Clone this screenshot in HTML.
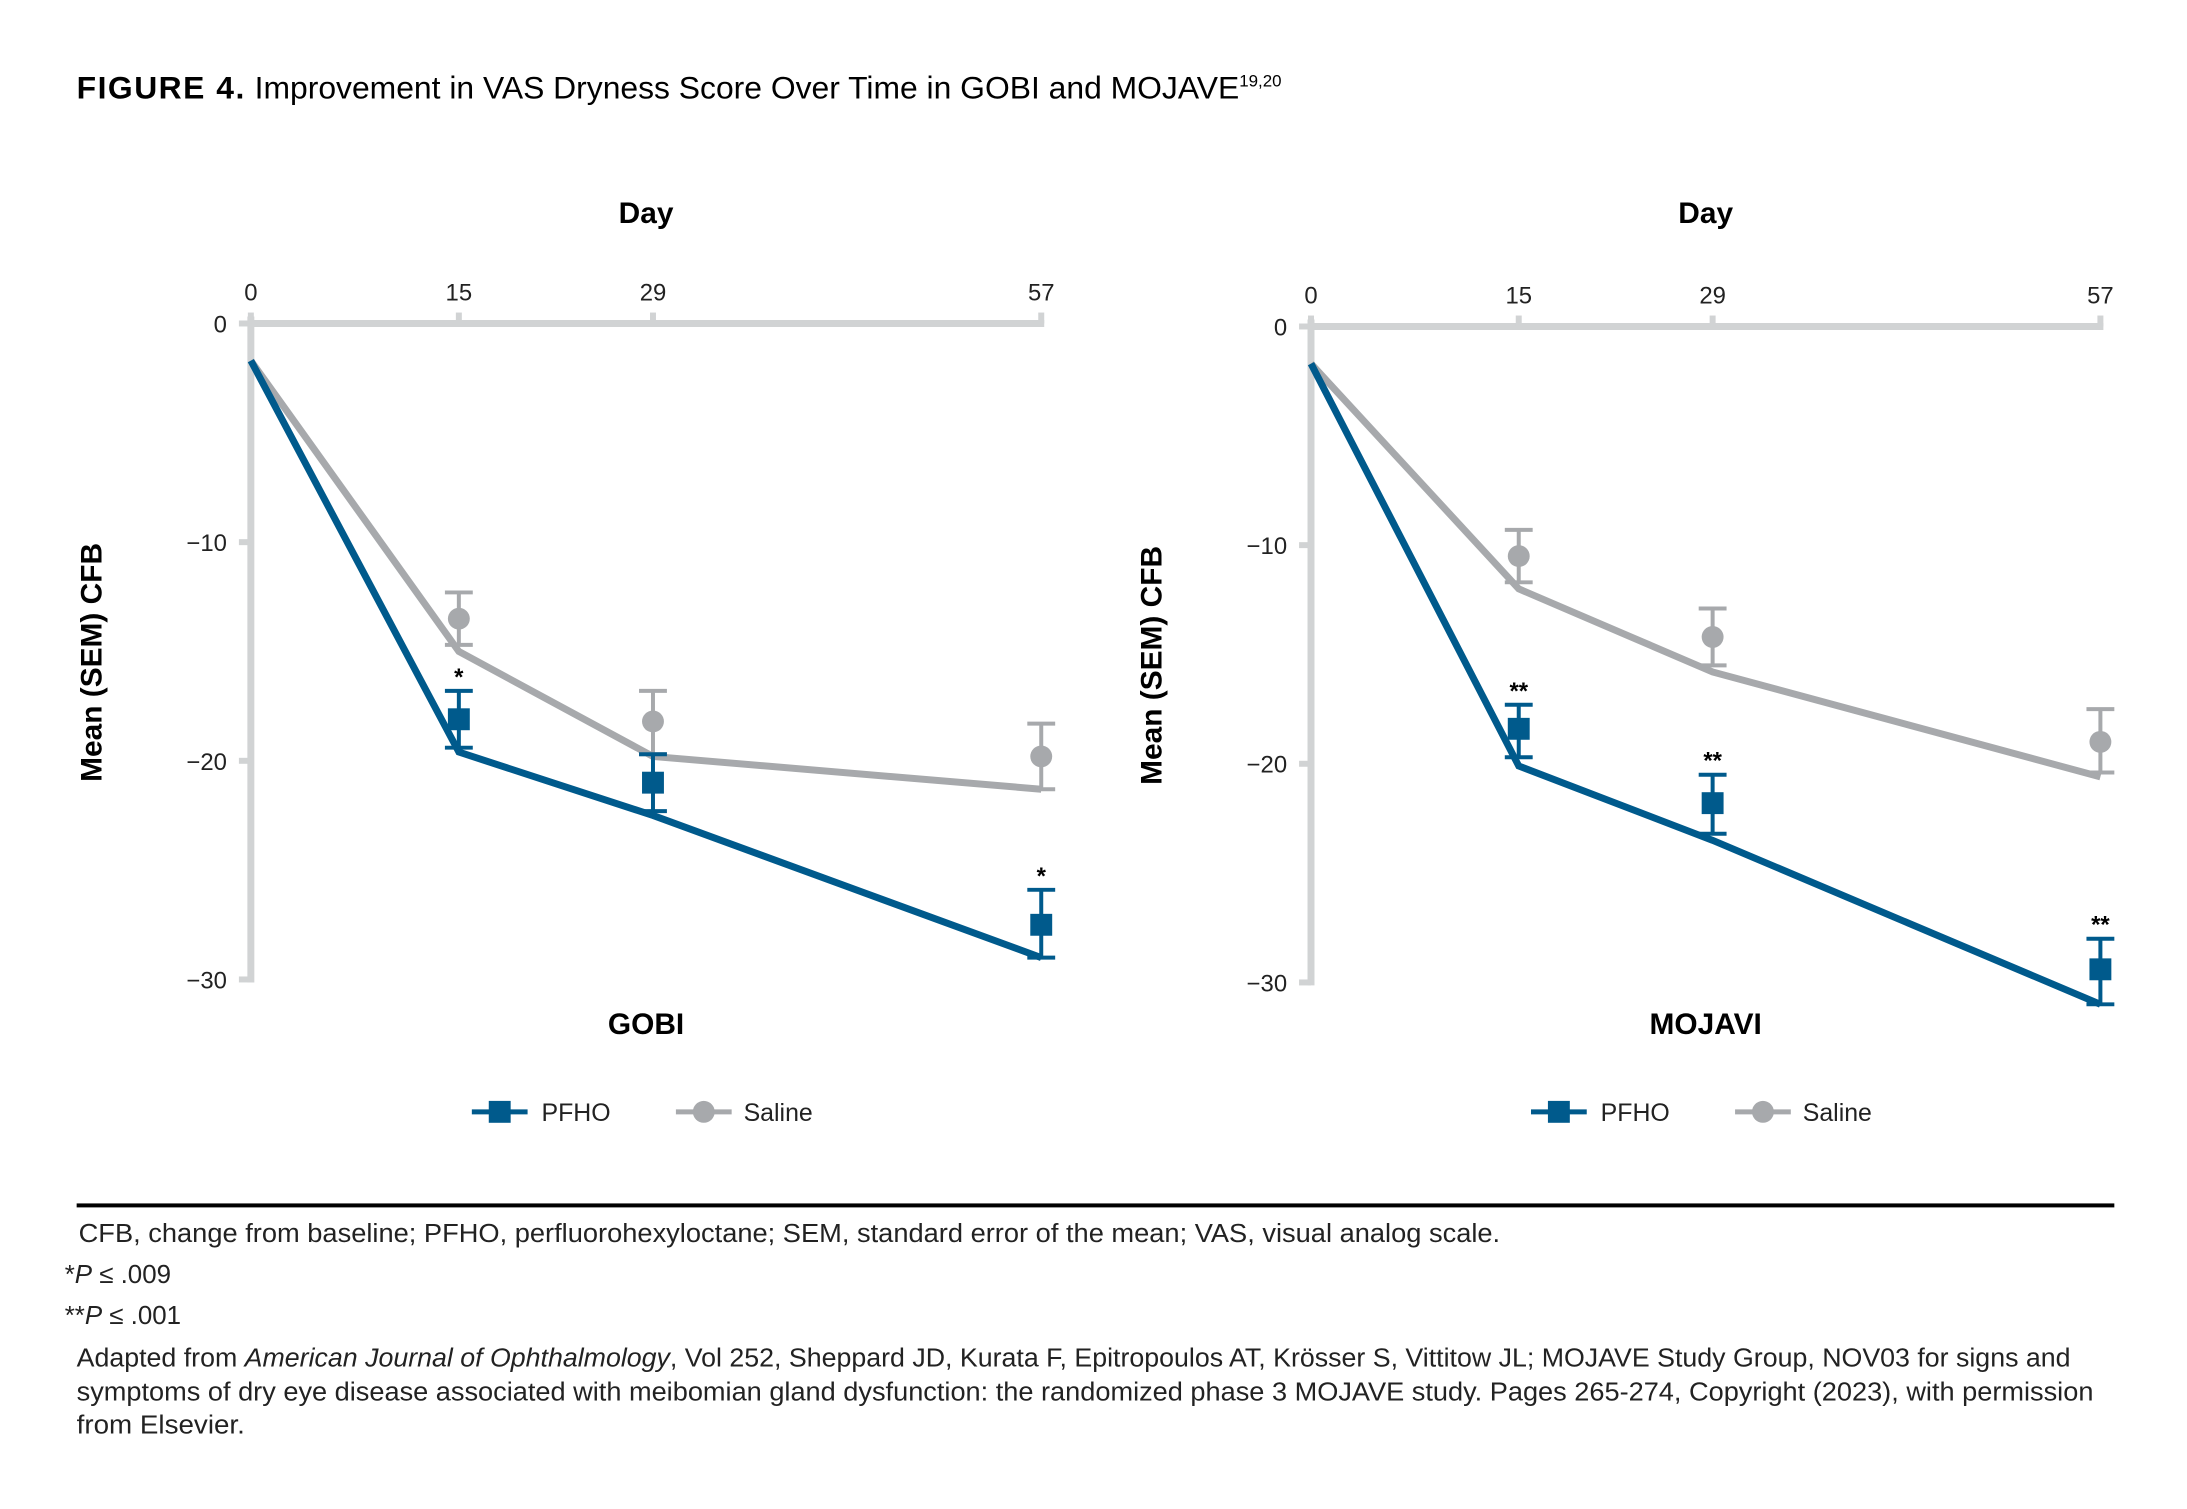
<!DOCTYPE html>
<html><head><meta charset="utf-8"><style>
html,body{margin:0;padding:0;background:#fff;}
svg{display:block;font-family:"Liberation Sans",sans-serif;}
</style></head><body>
<svg id="fig" width="2187" height="1509" viewBox="0 0 2197 1516" preserveAspectRatio="none">
<text x="77" y="99" font-size="32" fill="#000"><tspan font-weight="bold" letter-spacing="1.5">FIGURE 4.</tspan> Improvement in VAS Dryness Score Over Time in GOBI and MOJAVE<tspan font-size="17" dy="-12">19,20</tspan></text>
<g id="p1"></g>
<g id="p2"></g>
<rect x="77" y="1209" width="2047" height="4" fill="#000"/>
<g font-size="26" fill="#222">
<text x="79" y="1248" textLength="1428" lengthAdjust="spacingAndGlyphs">CFB, change from baseline; PFHO, perfluorohexyloctane; SEM, standard error of the mean; VAS, visual analog scale.</text>
<text x="65" y="1289">*<tspan font-style="italic">P</tspan> ≤ .009</text>
<text x="65" y="1330">**<tspan font-style="italic">P</tspan> ≤ .001</text>
<text x="77" y="1373" textLength="2003" lengthAdjust="spacingAndGlyphs">Adapted from <tspan font-style="italic">American Journal of Ophthalmology</tspan>, Vol 252, Sheppard JD, Kurata F, Epitropoulos AT, Krösser S, Vittitow JL; MOJAVE Study Group, NOV03 for signs and</text>
<text x="77" y="1407" textLength="2026" lengthAdjust="spacingAndGlyphs">symptoms of dry eye disease associated with meibomian gland dysfunction: the randomized phase 3 MOJAVE study. Pages 265-274, Copyright (2023), with permission</text>
<text x="77" y="1440" textLength="169" lengthAdjust="spacingAndGlyphs">from Elsevier.</text>
</g>
</svg>
<script>
const days = [0, 15, 29, 57];
const yTicks = [0, -10, -20, -30];
const gobiPfhoLine = [-1.7, -19.6, -22.5, -29.0];
const gobiSalineLine = [-1.7, -15.0, -19.8, -21.3];
const gobiPfhoMean = [-18.1, -21.0, -27.5];
const gobiPfhoLo = [-19.4, -22.3, -29.0];
const gobiPfhoHi = [-16.8, -19.7, -25.9];
const gobiSalMean = [-13.5, -18.2, -19.8];
const gobiSalLo = [-14.7, -19.7, -21.3];
const gobiSalHi = [-12.3, -16.8, -18.3];
const gobiStars = ["*", "", "*"];
const mojPfhoLine = [-1.7, -20.1, -23.5, -31.0];
const mojSalineLine = [-1.7, -12.0, -15.8, -20.6];
const mojPfhoMean = [-18.4, -21.8, -29.4];
const mojPfhoLo = [-19.7, -23.2, -31.0];
const mojPfhoHi = [-17.3, -20.5, -28.0];
const mojSalMean = [-10.5, -14.2, -19.0];
const mojSalLo = [-11.7, -15.5, -20.4];
const mojSalHi = [-9.3, -12.9, -17.5];
const mojStars = ["**", "**", "**"];

const NS = "http://www.w3.org/2000/svg";
const BLUE = "#005a8c", GRAY = "#a7a9ac", AXIS = "#d1d3d4";
function mk(parent, tag, attrs, txt) {
  const e = document.createElementNS(NS, tag);
  for (const k in attrs) e.setAttribute(k, attrs[k]);
  if (txt !== undefined) e.textContent = txt;
  parent.appendChild(e);
  return e;
}
function panel(g, x0, x1, y0, y1, title, pl, sl, pm, plo, phi, sm, slo, shi, stars, legX) {
  const xs = d => x0 + (d - 0) / 57 * (x1 - x0);
  const ys = v => y0 + (v - 0) / -30 * (y1 - y0);
  const cx = (x0 + x1) / 2;
  let e;
  e = mk(g, "text", {x: cx, y: 224, "font-size": 30, "font-weight": "bold", "text-anchor": "middle"}, "Day");
  
  
  e = mk(g, "text", {x: cx, y: 1039, "font-size": 30, "font-weight": "bold", "text-anchor": "middle"}, title);
  
  
  e = mk(g, "text", {x: 0, y: 0, "font-size": 30, "font-weight": "bold", "text-anchor": "middle", transform: "translate(" + (x0 - 150) + "," + ys(-15.5) + ") rotate(-90)"}, "Mean (SEM) CFB");
  
  
  e = mk(g, "line", {x1: x0, x2: x1 + 3, y1: y0, y2: y0, stroke: AXIS, "stroke-width": 7});
  
  
  e = mk(g, "line", {x1: x0, x2: x0, y1: y0 - 7, y2: y1 + 3, stroke: AXIS, "stroke-width": 7});
  
  
  days.forEach(d => {
    e = mk(g, "line", {x1: xs(d), x2: xs(d), y1: y0 - 11, y2: y0, stroke: AXIS, "stroke-width": 6});
    
    
    e = mk(g, "text", {x: xs(d), y: y0 - 23, "font-size": 24, "text-anchor": "middle", fill: "#222"}, String(d));
    
    
  });
  yTicks.forEach(v => {
    e = mk(g, "line", {x1: x0 - 12, x2: x0, y1: ys(v), y2: ys(v), stroke: AXIS, "stroke-width": 6});
    
    
    e = mk(g, "text", {x: x0 - 24, y: ys(v) + 9, "font-size": 24, "text-anchor": "end", fill: "#222"}, v === 0 ? "0" : "\u2212" + Math.abs(v));
    
    
  });
  e = mk(g, "polyline", {points: days.map((d, i) => xs(d) + "," + ys(sl[i])).join(" "), fill: "none", stroke: GRAY, "stroke-width": 7});
  
  
  e = mk(g, "polyline", {points: days.map((d, i) => xs(d) + "," + ys(pl[i])).join(" "), fill: "none", stroke: BLUE, "stroke-width": 7});
  
  
  for (let i = 0; i < 3; i++) {
    const x = xs(days[i + 1]);
    [[sm, slo, shi, GRAY, 'saline'], [pm, plo, phi, BLUE, 'pfho']].forEach(([m, lo, hi, c, nm]) => {
      e = mk(g, "path", {d: "M" + x + "," + ys(lo[i]) + "V" + ys(hi[i]) + "M" + (x - 14) + "," + ys(lo[i]) + "h28M" + (x - 14) + "," + ys(hi[i]) + "h28", stroke: c, "stroke-width": 4, fill: "none"});
      
      
      if (nm === 'saline') {
        e = mk(g, "circle", {cx: x, cy: ys(m[i]), r: 11, fill: c});
      } else {
        e = mk(g, "rect", {x: x - 11, y: ys(m[i]) - 11, width: 22, height: 22, fill: c});
      }
      
      
    });
    if (stars[i]) {
      e = mk(g, "text", {x: x, y: ys(phi[i]) - 6, "font-size": 24, "font-weight": "bold", "text-anchor": "middle"}, stars[i]);
      
      
    }
  }
  const ly = 1117;
  e = mk(g, "line", {x1: legX, x2: legX + 56, y1: ly, y2: ly, stroke: BLUE, "stroke-width": 5});
  
  
  e = mk(g, "rect", {x: legX + 17, y: ly - 11, width: 22, height: 22, fill: BLUE});
  
  
  e = mk(g, "text", {x: legX + 70, y: ly + 9, "font-size": 25, fill: "#222"}, "PFHO");
  
  
  const sx = legX + 205;
  e = mk(g, "line", {x1: sx, x2: sx + 56, y1: ly, y2: ly, stroke: GRAY, "stroke-width": 5});
  
  
  e = mk(g, "circle", {cx: sx + 28, cy: ly, r: 11, fill: GRAY});
  
  
  e = mk(g, "text", {x: sx + 68, y: ly + 9, "font-size": 25, fill: "#222"}, "Saline");
  
  
}
panel(document.getElementById('p1'), 252, 1046, 325, 984, "GOBI", gobiPfhoLine, gobiSalineLine, gobiPfhoMean, gobiPfhoLo, gobiPfhoHi, gobiSalMean, gobiSalLo, gobiSalHi, gobiStars, 474);
panel(document.getElementById('p2'), 1317, 2110, 328, 987, "MOJAVI", mojPfhoLine, mojSalineLine, mojPfhoMean, mojPfhoLo, mojPfhoHi, mojSalMean, mojSalLo, mojSalHi, mojStars, 1538);
</script>
</body></html>
